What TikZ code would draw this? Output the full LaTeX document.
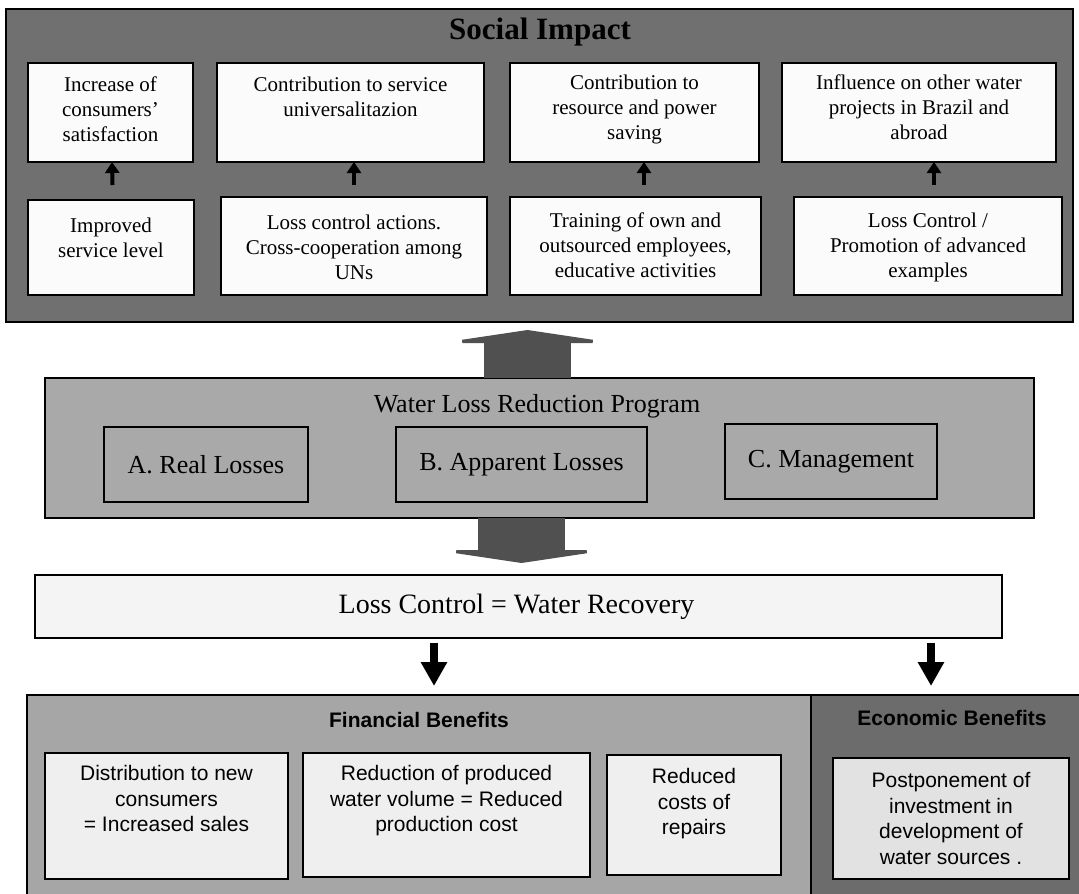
\documentclass[tikz,border=0pt]{standalone}
\usepackage{fontspec}
\setmainfont{Liberation Serif}
\newfontfamily\sansfont{Liberation Sans}
\usetikzlibrary{arrows.meta,calc}

\definecolor{socialfill}{HTML}{707070}
\definecolor{progfill}{HTML}{A9A9A9}
\definecolor{lossfill}{HTML}{F4F4F4}
\definecolor{finfill}{HTML}{A6A6A6}
\definecolor{econfill}{HTML}{6C6C6C}
\definecolor{paper}{HTML}{FBFBFB}
\definecolor{benefitbox}{HTML}{EFEFEF}
\definecolor{econbox}{HTML}{E2E2E2}
\definecolor{blockarrow}{HTML}{505050}

% rectangle node from its top-left (x1,y1) to bottom-right (x2,y2), in pixels
\newcommand\rectnode[6]{%
  \pgfmathsetmacro\rw{#5-#3}%
  \pgfmathsetmacro\rh{#6-#4}%
  \node[#1, anchor=north west, minimum width=\rw pt, minimum height=\rh pt,
        inner sep=0pt, outer sep=0pt] (#2) at (#3,#4) {};}

\tikzset{
  panel/.style={draw=black, line width=2pt},
  card/.style={draw=black, line width=2.4pt, fill=paper},
  serifbody/.style={align=center, inner sep=0pt, font=\fontsize{21}{25}\selectfont},
  sansbody/.style={align=center, inner sep=0pt, font=\sansfont\fontsize{21}{25.5}\selectfont},
  smallup/.style={draw=black, line width=4pt,
    -{Triangle[width=14pt, length=11pt]}},
  smalldown/.style={draw=black, line width=8.5pt,
    -{Triangle[width=25pt, length=24pt]}},
  blockarrowstyle/.style={draw=blockarrow, line width=87pt,
    -{Triangle[width=174pt, length=13pt]}},
}

\begin{document}
\begin{tikzpicture}[x=1pt, y=-1pt]
\useasboundingbox (0,0) rectangle (1079,894);
\fill[white] (0,0) rectangle (1079,894);

% ---------- social impact panel ----------
\rectnode{panel, fill=socialfill}{social}{6}{9}{1073}{322}
\node[font=\bfseries\fontsize{31}{36}\selectfont] (socialtitle) at (540,32) {Social Impact};

\rectnode{card}{b1}{28}{63}{193}{162}
\rectnode{card}{b2}{217}{63}{484}{162}
\rectnode{card}{b3}{510}{63}{759}{162}
\rectnode{card}{b4}{782}{63}{1056}{162}

\rectnode{card}{b5}{28}{200}{194}{295}
\rectnode{card}{b6}{221}{197}{487}{295}
\rectnode{card}{b7}{510}{197}{761}{295}
\rectnode{card}{b8}{794}{197}{1062}{295}

\node[serifbody, anchor=north] (t1) at ($(b1.north)+(0,13.5)$) {Increase of\\consumers'\\satisfaction};
\node[serifbody, anchor=north] (t2) at ($(b2.north)+(0,13.5)$) {Contribution to service\\universalitazion};
\node[serifbody, anchor=north] (t3) at ($(b3.north)+(0,12)$) {Contribution to\\resource and power\\saving};
\node[serifbody, anchor=north] (t4) at ($(b4.north)+(0,12)$) {Influence on other water\\projects in Brazil and\\abroad};

\node[serifbody, anchor=north] (t5) at ($(b5.north)+(0,17.5)$) {Improved\\service level};
\node[serifbody, anchor=north] (t6) at ($(b6.north)+(0,18)$) {Loss control actions.\\Cross-cooperation among\\UNs};
\node[serifbody, anchor=north] (t7) at ($(b7.north)+(0,15.5)$) {Training of own and\\outsourced employees,\\educative activities};
\node[serifbody, anchor=north] (t8) at ($(b8.north)+(0,15.5)$) {Loss Control /\\Promotion of advanced\\examples};

% small arrows rise from the gap above each lower card
\draw[smallup] ([xshift=1.5pt, yshift=15pt]b5.north) -- ([xshift=1.5pt]b1.south);
\draw[smallup] ([yshift=12pt]b6.north) -- (b6.north |- b2.south);
\draw[smallup] ([xshift=8.5pt, yshift=12pt]b7.north) -- ([xshift=8.5pt]b7.north |- b3.south);
\draw[smallup] ([xshift=6pt, yshift=12pt]b8.north) -- ([xshift=6pt]b8.north |- b4.south);

% ---------- water loss reduction program ----------
\rectnode{panel, fill=progfill}{prog}{45}{378}{1034}{518}
\node[font=\fontsize{26}{30}\selectfont] (progtitle) at (537,406) {Water Loss Reduction Program};

\rectnode{panel, fill=progfill}{ba}{104}{427}{308}{502}
\rectnode{panel, fill=progfill}{bb}{396}{427}{647}{502}
\rectnode{panel, fill=progfill}{bc}{725}{424}{937}{499}
\node[font=\fontsize{26}{30}\selectfont] (ta) at (ba.center) {A. Real Losses};
\node[font=\fontsize{26}{30}\selectfont] (tb) at (bb.center) {B. Apparent Losses};
\node[font=\fontsize{26}{30}\selectfont] (tc) at (bc.center) {C. Management};

\draw[blockarrowstyle, shorten >=8pt] ([xshift=-12pt]prog.north) -- ([xshift=-12pt]prog.north |- social.south);

% ---------- loss control ----------
\rectnode{card, fill=lossfill}{loss}{35}{575}{1002}{638}
\node[font=\fontsize{28}{32}\selectfont] (losstext) at ($(loss.center)+(-2,0)$) {Loss Control = Water Recovery};

\draw[blockarrowstyle, shorten >=12pt] ([xshift=-18pt]prog.south) -- ([xshift=-18pt]prog.south |- loss.north);

% ---------- benefits ----------
\rectnode{panel, fill=finfill}{fin}{27}{695}{811}{920}
\rectnode{panel, fill=econfill}{econ}{811}{695}{1090}{920}
\node[font=\sansfont\bfseries\fontsize{21}{25}\selectfont] (fintitle) at (419,720) {Financial Benefits};
\node[font=\sansfont\bfseries\fontsize{21}{25}\selectfont] (econtitle) at (952,718) {Economic Benefits};

\rectnode{card, fill=benefitbox}{d1}{45}{753}{288}{879}
\rectnode{card, fill=benefitbox}{d2}{303}{753}{590}{877}
\rectnode{card, fill=benefitbox}{d3}{607}{755}{781}{875}
\rectnode{card, fill=econbox}{e1}{833}{758}{1069}{879}

\node[sansbody, anchor=north] (td1) at ($(d1.north)+(0,12.5)$) {Distribution to new\\consumers\\= Increased sales};
\node[sansbody, anchor=north] (td2) at ($(d2.north)+(0,12.5)$) {Reduction of produced\\water volume = Reduced\\production cost};
\node[sansbody, anchor=north] (td3) at ($(d3.north)+(0,13.5)$) {Reduced\\costs of\\repairs};
\node[sansbody, anchor=north] (te1) at ($(e1.north)+(0,14.5)$) {Postponement of\\investment in\\development of\\water sources .};

\draw[smalldown, shorten <=5pt, shorten >=9pt] ([xshift=15pt]fin.north |- loss.south) -- ([xshift=15pt]fin.north);
\draw[smalldown, shorten <=5pt, shorten >=9pt] ([xshift=-19.5pt]econ.north |- loss.south) -- ([xshift=-19.5pt]econ.north);
\end{tikzpicture}
\end{document}
